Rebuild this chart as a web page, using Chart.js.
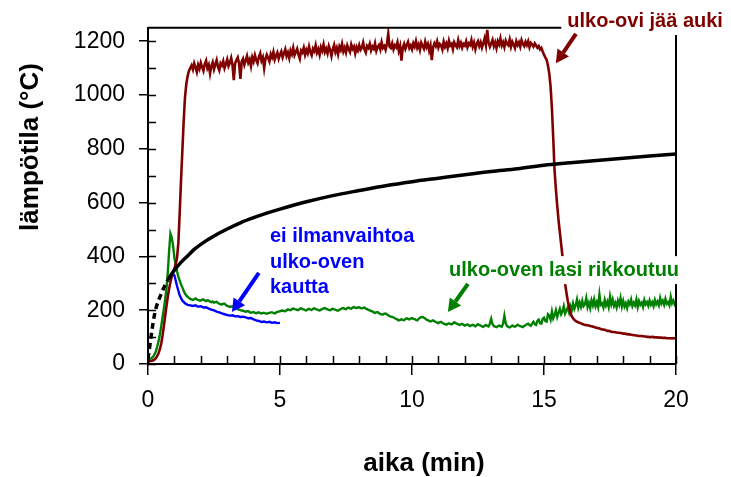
<!DOCTYPE html>
<html>
<head>
<meta charset="utf-8">
<script src="https://cdn.jsdelivr.net/npm/chart.js@4.4.0/dist/chart.umd.min.js"></script>
<style>
  html, body { margin: 0; padding: 0; background: #fff; }
  canvas { display: block; }
</style>
</head>
<body>
<canvas id="c" width="731" height="477"></canvas>
<script>
// Logged gas temperatures (°C); each series has its own logging interval (min)
const RED_STEP = 0.05;
const GREEN_STEP = 0.05;
const BLUE_STEP = 0.1;

// ulko-ovi jää auki (t = 0 ... 20 min)
const redTemps = [
  10, 10, 11, 12, 14, 17, 22, 30, 40, 55, 75, 105, 140, 178, 215, 250, 280, 305, 325, 342,
  355, 372, 395, 450, 560, 680, 790, 900, 990, 1040, 1070, 1090, 1100,
  1110, 1095, 1118, 1102, 1085, 1112, 1098,
  1120, 1104, 1090, 1115, 1128, 1100, 1112, 1080, 1108, 1122, 1096, 1114, 1130, 1105, 1092, 1118, 1110, 1126, 1100, 1115,
  1132, 1108, 1120, 1138, 1112, 1055, 1118, 1130, 1140, 1116, 1060, 1125, 1135, 1112, 1128, 1145, 1120, 1132, 1108, 1140,
  1125, 1148, 1130, 1118, 1142, 1155, 1128, 1140, 1100, 1135, 1150, 1138, 1125, 1152, 1140, 1160, 1132, 1146, 1158, 1135,
  1150, 1162, 1140, 1155, 1170, 1145, 1158, 1138, 1165, 1152, 1175, 1148, 1160, 1172, 1150, 1135, 1165, 1158, 1176, 1150,
  1168, 1155, 1180, 1160, 1148, 1172, 1163, 1185, 1158, 1170, 1150, 1178, 1165, 1188, 1160, 1172, 1155, 1182, 1168, 1145,
  1170, 1186, 1160, 1175, 1152, 1180, 1168, 1190, 1162, 1176, 1158, 1184, 1170, 1160, 1188, 1172, 1180, 1155, 1178, 1166,
  1185, 1168, 1176, 1195, 1170, 1158, 1182, 1175, 1190, 1166, 1180, 1172, 1192, 1164, 1178, 1186, 1170, 1196, 1175, 1182,
  1168, 1190, 1228, 1180, 1175, 1192, 1170, 1185, 1178, 1196, 1165, 1182, 1128, 1176, 1190, 1172, 1186, 1198, 1175, 1184,
  1170, 1192, 1180, 1200, 1176, 1188, 1168, 1194, 1182, 1172, 1198, 1178, 1190, 1165, 1184, 1130, 1178, 1192, 1182, 1200,
  1176, 1190, 1185, 1170, 1198, 1180, 1192, 1175, 1202, 1184, 1190, 1170, 1196, 1186, 1178, 1204, 1182, 1194, 1176, 1190,
  1184, 1200, 1178, 1192, 1186, 1205, 1180, 1195, 1170, 1190, 1200, 1182, 1196, 1176, 1192, 1210, 1185, 1242, 1195, 1180,
  1192, 1205, 1182, 1196, 1175, 1200, 1188, 1210, 1184, 1196, 1178, 1202, 1190, 1185, 1206, 1180, 1198, 1188, 1175, 1200,
  1186, 1196, 1180, 1204, 1190, 1182, 1198, 1186, 1200, 1178, 1194, 1188, 1180, 1192, 1184, 1176, 1182, 1170, 1175, 1162,
  1150, 1140, 1131, 1110, 1080, 1030, 950, 840, 720, 650, 590, 535, 490, 445, 400, 350, 298, 265, 235, 210,
  190, 178, 170, 164, 160, 157, 155, 153, 151, 149, 147, 146, 144, 144, 143, 141, 140, 139, 138, 136,
  134, 134, 132, 130, 128, 128, 127, 125, 123, 123, 122, 120, 119, 119, 118, 117, 116, 116, 115, 114,
  113, 113, 112, 111, 110, 110, 109, 108, 107, 107, 106, 105, 104, 104, 104, 103, 102, 102, 101, 101,
  100, 100, 101, 100, 99, 99, 99, 98, 98, 98, 97, 97, 97, 96, 96, 96, 96, 95, 96, 96,
  96
];

// ulko-oven lasi rikkoutuu (t = 0 ... 20 min)
const greenTemps = [
  18, 19, 20, 23, 28, 36, 48, 65, 85, 110, 140, 172, 205, 240, 280, 340, 420, 485, 470, 440,
  395, 368, 345, 325, 310, 296, 285, 272, 262, 255, 250, 246, 242, 240, 238, 241, 244, 240, 238, 236,
  236, 239, 240, 236, 234, 237, 236, 232, 230, 232, 228, 230, 231, 227, 224, 222, 221, 224, 224, 219,
  216, 214, 212, 214, 214, 210, 207, 205, 204, 202, 200, 199, 198, 196, 194, 196, 196, 193, 191, 192,
  193, 190, 189, 191, 192, 189, 188, 190, 190, 188, 187, 189, 190, 192, 192, 190, 188, 191, 194, 195,
  196, 198, 199, 197, 196, 200, 203, 201, 200, 204, 206, 204, 203, 201, 201, 205, 207, 204, 203, 200,
  199, 203, 205, 202, 201, 205, 207, 204, 203, 200, 199, 202, 204, 207, 208, 205, 203, 201, 200, 203,
  205, 203, 202, 199, 198, 202, 204, 207, 208, 205, 204, 208, 210, 207, 206, 210, 212, 209, 208, 210,
  211, 208, 207, 209, 210, 206, 204, 201, 199, 197, 196, 192, 190, 192, 193, 189, 186, 184, 184, 187,
  188, 184, 181, 178, 176, 175, 173, 170, 168, 165, 162, 164, 166, 164, 163, 167, 170, 168, 166, 169,
  171, 168, 167, 164, 162, 168, 172, 174, 175, 172, 169, 165, 163, 160, 158, 160, 162, 159, 156, 154,
  152, 155, 157, 153, 150, 148, 146, 149, 151, 149, 147, 151, 155, 152, 150, 147, 145, 147, 149, 146,
  143, 145, 147, 144, 141, 144, 146, 143, 140, 144, 148, 145, 143, 140, 138, 142, 145, 142, 140, 150,
  168, 148, 141, 139, 137, 140, 143, 141, 139, 150, 180, 152, 141, 138, 136, 139, 143, 140, 139, 142,
  146, 143, 141, 139, 137, 142, 144, 148, 150, 145, 142, 150, 157, 148, 145, 160, 165, 152, 150, 168,
  172, 160, 158, 185, 180, 165, 195, 170, 182, 200, 175, 190, 205, 185, 195, 215, 188, 200, 210, 192,
  215, 200, 225, 205, 218, 240, 210, 228, 212, 235, 215, 222, 245, 212, 228, 208, 236, 218, 240, 215,
  230, 212, 258, 220, 225, 210, 238, 218, 232, 212, 250, 222, 240, 216, 228, 210, 235, 220, 245, 214,
  235, 214, 226, 208, 232, 222, 240, 215, 228, 218, 240, 212, 234, 220, 228, 212, 238, 222, 230, 216,
  236, 220, 230, 215, 238, 222, 232, 218, 245, 225, 235, 220, 242, 224, 230, 218, 250, 226, 236, 222,
  232
];

// ei ilmanvaihtoa ulko-oven kautta (t = 0.9 ... 5.0 min)
const blueStart = 0.9;
const blueTemps = [
  340, 330, 290, 255, 236, 226, 220, 218, 216, 218,
  213, 215, 210, 211, 206, 202, 199, 195, 192, 188,
  185, 182, 180, 181, 177, 178, 175, 176, 173, 170,
  171, 166, 162, 160, 156, 158, 155, 157, 153, 155,
  152, 153
];

// standard fire curve
const standardTimes = [0, 0.25, 0.5, 0.75, 1, 1.25, 1.5, 1.75, 2, 2.5, 3, 3.5, 4, 4.5, 5,
  6, 7, 8, 9, 10, 11, 12, 13, 14, 15, 16, 17, 18, 19, 20];
const standardTemps = [20, 185, 261, 312, 349, 378, 402, 426, 445, 476, 502, 525, 544, 561, 576,
  603, 626, 645, 663, 678, 691, 704, 716, 726, 739, 748, 757, 765, 773, 781];
const dashedUntil = 0.75;

// axis ticks
const xTicks = [0, 5, 10, 15, 20];
const xMinorTicks = [0,1,2,3,4,5,6,7,8,9,10,11,12,13,14,15,16,17,18,19,20];
const yTicks = [0, 200, 400, 600, 800, 1000, 1200];
const yMinorTicks = [0,100,200,300,400,500,600,700,800,900,1000,1100,1200];

const xTitle = 'aika (min)';
const yTitle = 'lämpötila (°C)';

const RED = '#800000', GREEN = '#008000', BLUE = '#0000ff', BLACK = '#000000';

// annotations, in data units
const notes = [
  { lines: ['ulko-ovi jää auki'], color: RED, x: 18.83, y: 1275, align: 'center', box: true,
    arrow: { from: [16.21, 1227], to: [15.45, 1118] } },
  { lines: ['ulko-oven lasi rikkoutuu'], color: GREEN, x: 15.76, y: 349, align: 'center', box: true,
    arrow: { from: [12.12, 298], to: [11.36, 193] } },
  { lines: ['ei ilmanvaihtoa', 'ulko-oven', 'kautta'], color: BLUE, x: 4.62, y: 474, align: 'left', box: false,
    arrow: { from: [4.2, 339], to: [3.18, 193] } }
];

const series = (vals, t0, step) => vals.map((v, i) => ({ x: +(t0 + i * step).toFixed(3), y: v }));
const standard = standardTimes.map((t, i) => ({ x: t, y: standardTemps[i] }));

const FONT = "'Liberation Sans', Arial, sans-serif";

function drawArrow(ctx, x0, y0, x1, y1, color) {
  const ang = Math.atan2(y1 - y0, x1 - x0);
  const headLen = 13, headHalf = 7;
  const bx = x1 - headLen * Math.cos(ang), by = y1 - headLen * Math.sin(ang);
  ctx.save();
  ctx.strokeStyle = color; ctx.fillStyle = color;
  ctx.lineWidth = 4; ctx.lineCap = 'butt';
  ctx.beginPath(); ctx.moveTo(x0, y0); ctx.lineTo(bx, by); ctx.stroke();
  ctx.beginPath();
  ctx.moveTo(x1, y1);
  ctx.lineTo(bx + headHalf * Math.sin(ang), by - headHalf * Math.cos(ang));
  ctx.lineTo(bx - headHalf * Math.sin(ang), by + headHalf * Math.cos(ang));
  ctx.closePath(); ctx.fill();
  ctx.restore();
}

const decorations = {
  id: 'decorations',
  afterDatasetsDraw(chart) {
    const { ctx, chartArea: a, scales: { x, y } } = chart;
    ctx.save();
    ctx.strokeStyle = '#000';
    // box frame (top + right)
    ctx.lineWidth = 2;
    ctx.beginPath();
    ctx.moveTo(a.left, a.top); ctx.lineTo(a.right, a.top); ctx.lineTo(a.right, a.bottom);
    ctx.stroke();
    // inward tick marks
    ctx.lineWidth = 1.5;
    ctx.beginPath();
    yMinorTicks.forEach(v => { const py = Math.round(y.getPixelForValue(v)) + 0.5; ctx.moveTo(a.left, py); ctx.lineTo(a.left + 8, py); });
    xMinorTicks.forEach(v => { const px = Math.round(x.getPixelForValue(v)) + 0.5; ctx.moveTo(px, a.bottom); ctx.lineTo(px, a.bottom - 8); });
    ctx.stroke();
    ctx.restore();
  },
  afterDraw(chart) {
    const { ctx, scales: { x, y } } = chart;
    ctx.save();
    // axis titles
    ctx.fillStyle = '#000';
    ctx.font = 'bold 26px ' + FONT;
    ctx.textAlign = 'center'; ctx.textBaseline = 'middle';
    ctx.fillText(xTitle, 424, 464);
    ctx.save();
    ctx.translate(31, 147); ctx.rotate(-Math.PI / 2);
    ctx.fillText(yTitle, 0, 0);
    ctx.restore();
    // annotations
    ctx.font = 'bold 20px ' + FONT;
    notes.forEach(n => {
      const px = x.getPixelForValue(n.x), py = y.getPixelForValue(n.y);
      if (n.box) {
        const w = ctx.measureText(n.lines[0]).width;
        const left = n.align === 'center' ? px - w / 2 : px;
        ctx.fillStyle = '#fff';
        ctx.fillRect(left - 6, py - 14, w + 12, 28);
      }
      ctx.fillStyle = n.color;
      ctx.textAlign = n.align; ctx.textBaseline = 'middle';
      n.lines.forEach((t, i) => ctx.fillText(t, px, py + i * 25.5));
      drawArrow(ctx,
        x.getPixelForValue(n.arrow.from[0]), y.getPixelForValue(n.arrow.from[1]),
        x.getPixelForValue(n.arrow.to[0]), y.getPixelForValue(n.arrow.to[1]), n.color);
    });
    ctx.restore();
  }
};

new Chart(document.getElementById('c'), {
  type: 'line',
  data: {
    datasets: [
      { data: standard, borderColor: BLACK, borderWidth: 3.5, pointRadius: 0, cubicInterpolationMode: 'monotone',
        segment: { borderDash: c => (c.p1.parsed.x <= dashedUntil ? [6, 4] : undefined) } },
      { data: series(redTemps, 0, RED_STEP), borderColor: RED, borderWidth: 2.6, pointRadius: 0, tension: 0 },
      { data: series(greenTemps, 0, GREEN_STEP), borderColor: GREEN, borderWidth: 2.4, pointRadius: 0, tension: 0 },
      { data: series(blueTemps, blueStart, BLUE_STEP), borderColor: BLUE, borderWidth: 2.4, pointRadius: 0, tension: 0 }
    ]
  },
  options: {
    responsive: false,
    animation: false,
    devicePixelRatio: 1,
    layout: { padding: { top: 24, right: 55, left: 0, bottom: 0 } },
    plugins: { legend: { display: false }, tooltip: { enabled: false } },
    scales: {
      x: {
        type: 'linear', min: 0, max: 20,
        afterBuildTicks: s => { s.ticks = xTicks.map(v => ({ value: v })); },
        afterFit: s => { s.height = 113; },
        border: { display: true, color: '#000', width: 2 },
        grid: { drawOnChartArea: false, drawTicks: true, tickLength: 11, color: '#000', lineWidth: 1.5 },
        ticks: { color: '#000', font: { family: FONT, size: 23 }, padding: 12, maxRotation: 0,
                 callback: v => String(v) }
      },
      y: {
        type: 'linear', min: 0, max: 1250,
        afterBuildTicks: s => { s.ticks = yTicks.map(v => ({ value: v })); },
        afterFit: s => { s.width = 148; },
        border: { display: true, color: '#000', width: 2 },
        grid: { drawOnChartArea: false, drawTicks: true, tickLength: 9, color: '#000', lineWidth: 1.5 },
        ticks: { color: '#000', font: { family: FONT, size: 23 }, padding: 14,
                 callback: v => String(v) }
      }
    }
  },
  plugins: [decorations]
});
</script>
</body>
</html>
